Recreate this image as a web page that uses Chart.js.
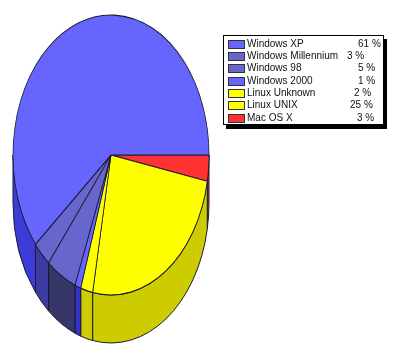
<!DOCTYPE html>
<html>
<head>
<meta charset="utf-8">
<script src="https://cdn.jsdelivr.net/npm/chart.js@4"></script>
<style>
  html, body { margin: 0; padding: 0; background: #fff; }
  #wrap { position: relative; width: 400px; height: 356px; overflow: hidden; }
  #pie { position: absolute; left: 0; top: 0; }
  #legend {
    position: absolute; left: 223px; top: 35px; width: 159px; height: 88px;
    background: #fff; border: 1px solid #000; box-shadow: 3px 4px 0 #000;
    font: 10px "Liberation Sans", Arial, sans-serif; color: #111;
  }
  .row { position: absolute; left: 0; right: 0; height: 12px; line-height: 12px; white-space: nowrap; }
  .swatch { position: absolute; left: 4px; top: 2px; width: 15px; height: 7px; border: 1px solid #333; }
  .name { position: absolute; left: 23px; top: 0; }
  .value { position: absolute; top: 0; }
</style>
</head>
<body>
<div id="wrap">
  <canvas id="pie" width="400" height="356"></canvas>
  <div id="legend"></div>
</div>
<script>
// legend order, the pie itself runs the other way round
const labels = ['Windows XP', 'Windows Millennium', 'Windows 98', 'Windows 2000', 'Linux Unknown', 'Linux UNIX', 'Mac OS X'];
const values = [61, 3, 5, 1, 2, 25, 3];
const topColors = ['#6666ff', '#6666cc', '#6666cc', '#6666ff', '#ffff00', '#ffff00', '#ff3333'];
const sideColors = ['#3c3cd8', '#3c3ca0', '#36366a', '#3333cc', '#cccc00', '#cccc00', '#cc3333'];

// left edge of each percent text inside the legend box, they don't line up in the original
const valueLeft = [134, 123, 134, 134, 130, 126, 133];

const squash = 140 / 98; // ellipse height / width
const depth = 48;

const pieLabels = [...labels].reverse();
const pieValues = [...values].reverse();
const pieColors = [...topColors].reverse();
const pieSides = [...sideColors].reverse();

const ellipsePie = {
  id: 'ellipsePie',
  beforeDatasetsDraw(chart) {
    const ctx = chart.ctx;
    const arcs = chart.getDatasetMeta(0).data;
    const cx = arcs[0].x;
    const cy = arcs[0].y;
    const rx = arcs[0].outerRadius;
    const ry = rx * squash;

    // side wall, only the front half can be seen
    arcs.forEach((arc, i) => {
      const from = Math.max(arc.startAngle, 0);
      const to = Math.min(arc.endAngle, Math.PI);
      if (from >= to) return;
      ctx.beginPath();
      ctx.ellipse(cx, cy, rx, ry, 0, from, to);
      ctx.ellipse(cx, cy + depth, rx, ry, 0, to, from, true);
      ctx.closePath();
      ctx.fillStyle = pieSides[i];
      ctx.fill();
      ctx.lineWidth = 1;
      ctx.strokeStyle = '#1a1a33';
      ctx.stroke();
    });

    ctx.save();
    ctx.translate(cx, cy);
    ctx.scale(1, squash);
    ctx.translate(-cx, -cy);
  },
  afterDatasetsDraw(chart) {
    chart.ctx.restore();
  }
};

new Chart(document.getElementById('pie').getContext('2d'), {
  type: 'pie',
  plugins: [ellipsePie],
  data: {
    labels: pieLabels,
    datasets: [{
      data: pieValues,
      backgroundColor: pieColors,
      borderColor: '#1a1a33',
      borderWidth: 0.8,
      borderAlign: 'center',
      clip: false
    }]
  },
  options: {
    responsive: false,
    animation: false,
    rotation: 90,
    radius: 98,
    layout: { padding: { left: 13, right: 191, top: 57, bottom: 103 } },
    plugins: { legend: { display: false }, tooltip: { enabled: false } }
  }
});

const legend = document.getElementById('legend');
labels.forEach((name, i) => {
  const row = document.createElement('div');
  row.className = 'row';
  row.style.top = (1.5 + i * 12.35) + 'px';
  row.innerHTML = '<span class="swatch" style="background:' + topColors[i] + '"></span>' +
    '<span class="name">' + name + '</span>' +
    '<span class="value" style="left:' + valueLeft[i] + 'px">' + values[i] + ' %</span>';
  legend.appendChild(row);
});
</script>
</body>
</html>
